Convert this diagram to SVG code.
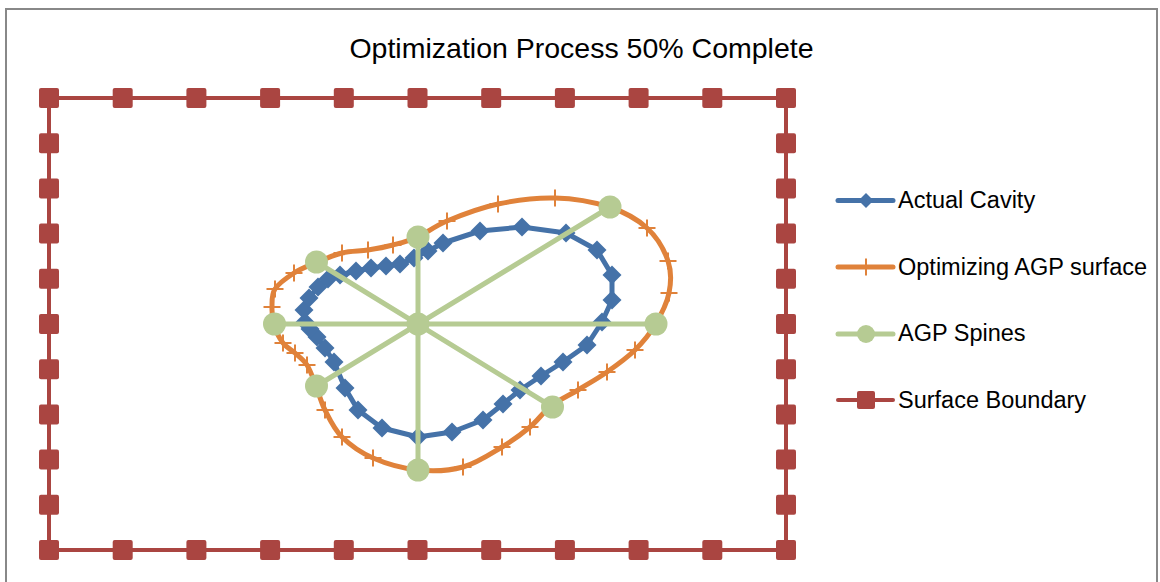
<svg xmlns="http://www.w3.org/2000/svg" xmlns:xlink="http://www.w3.org/1999/xlink" width="1160" height="582" viewBox="0 0 1160 582">
<style>
.txt{font-family:"Liberation Sans",Arial,sans-serif;fill:#000}
.title{font-size:28.5px}
.leg{font-size:23.5px}
.blue{fill:none;stroke:#4572A8;stroke-width:5;stroke-linejoin:round}
.orange{fill:none;stroke:#E0823A;stroke-width:5;stroke-linejoin:round}
.green{fill:none;stroke:#B6CB93;stroke-width:5;stroke-linecap:round}
.red{fill:none;stroke:#AA4541;stroke-width:4}
</style>
<defs>
<path id="dia" d="M0,-9.5L9.5,0L0,9.5L-9.5,0Z" fill="#4572A8"/>
<path id="plus" d="M-8.5,0H8.5M0,-8.5V8.5" stroke="#E0823A" stroke-width="2" fill="none"/>
<rect id="sq" x="-10" y="-10" width="20" height="20" rx="2" fill="#AA4541"/>
<circle id="dot" r="11.5" fill="#B6CB93"/>
</defs>
<rect x="6" y="9" width="1151" height="600" fill="#fff" stroke="#888" stroke-width="2"/>
<text class="txt title" x="581.5" y="58" text-anchor="middle">Optimization Process 50% Complete</text>

<g id="actual-cavity">
<polygon class="blue" points="305,322 304,310 309,298 318,287 328,279 340,275 356,271 371,268 386,266 400,264 414,258 428,251 443,243 480,231 522,227 566,233 597,250 612,275 612,300 602,322 587,345 563,362 541,376 520,390 503,404 483,420 452,432 418,437 382,428 358,410 345,388 334,362 325,348 317,337 310,329"/>
<use href="#dia" x="305" y="322"/><use href="#dia" x="304" y="310"/><use href="#dia" x="309" y="298"/><use href="#dia" x="318" y="287"/><use href="#dia" x="328" y="279"/><use href="#dia" x="340" y="275"/><use href="#dia" x="356" y="271"/><use href="#dia" x="371" y="268"/><use href="#dia" x="386" y="266"/><use href="#dia" x="400" y="264"/><use href="#dia" x="414" y="258"/><use href="#dia" x="428" y="251"/><use href="#dia" x="443" y="243"/><use href="#dia" x="480" y="231"/><use href="#dia" x="522" y="227"/><use href="#dia" x="566" y="233"/><use href="#dia" x="597" y="250"/><use href="#dia" x="612" y="275"/><use href="#dia" x="612" y="300"/><use href="#dia" x="602" y="322"/><use href="#dia" x="587" y="345"/><use href="#dia" x="563" y="362"/><use href="#dia" x="541" y="376"/><use href="#dia" x="520" y="390"/><use href="#dia" x="503" y="404"/><use href="#dia" x="483" y="420"/><use href="#dia" x="452" y="432"/><use href="#dia" x="418" y="437"/><use href="#dia" x="382" y="428"/><use href="#dia" x="358" y="410"/><use href="#dia" x="345" y="388"/><use href="#dia" x="334" y="362"/><use href="#dia" x="325" y="348"/><use href="#dia" x="317" y="337"/><use href="#dia" x="310" y="329"/>
</g>

<g id="agp-surface">
<path class="orange" d="M274,325 C272.17,319 271.83,313 272,307 C272.17,301 271.33,294.67 275,289 C278.67,283.33 287.33,277.33 294,273 C300.67,268.67 307,266.33 315,263 C323,259.67 333.17,255.17 342,253 C350.83,250.83 359.5,251.33 368,250 C376.5,248.67 384.67,247.17 393,245 C401.33,242.83 409,241 418,237 C427,233 433.67,226.5 447,221 C460.33,215.5 480,207.83 498,204 C516,200.17 536.5,197.5 555,198 C573.5,198.5 593.67,202 609,207 C624.33,212 637.17,219 647,228 C656.83,237 664.33,250.17 668,261 C671.67,271.83 671.17,282.33 669,293 C666.83,303.67 660.67,315.5 655,325 C649.33,334.5 643,342.17 635,350 C627,357.83 616.5,365.33 607,372 C597.5,378.67 587.33,384.33 578,390 C568.67,395.67 559,399.83 551,406 C543,412.170 538.17,420.17 530,427 C521.83,433.83 513.17,440.33 502,447 C490.83,453.67 477,463.17 463,467 C449,470.83 433,471.5 418,470 C403,468.5 385.67,463.5 373,458 C360.33,452.5 350,445 342,437 C334,429 329.33,418.5 325,410 C320.67,401.5 319,393.5 316,386 C313,378.5 310.5,370.5 307,365 C303.5,359.5 299,356.67 295,353 C291,349.33 286.5,347.67 283,343 C279.5,338.33 275.83,331 274,325 Z"/>
<use href="#plus" x="272" y="307"/><use href="#plus" x="275" y="289"/><use href="#plus" x="294" y="273"/><use href="#plus" x="342" y="253"/><use href="#plus" x="368" y="250"/><use href="#plus" x="393" y="245"/><use href="#plus" x="447" y="221"/><use href="#plus" x="498" y="204"/><use href="#plus" x="555" y="198"/><use href="#plus" x="647" y="228"/><use href="#plus" x="668" y="261"/><use href="#plus" x="669" y="293"/><use href="#plus" x="635" y="350"/><use href="#plus" x="607" y="372"/><use href="#plus" x="578" y="390"/><use href="#plus" x="530" y="427"/><use href="#plus" x="502" y="447"/><use href="#plus" x="463" y="467"/><use href="#plus" x="373" y="458"/><use href="#plus" x="342" y="437"/><use href="#plus" x="325" y="410"/><use href="#plus" x="307" y="365"/><use href="#plus" x="295" y="353"/><use href="#plus" x="283" y="343"/>
</g>

<g id="agp-spines">
<path class="green" d="M274,324H657M418,237V470M316.5,262L552.5,407M610,207L316.5,386"/>
<use href="#dot" x="418" y="324"/><use href="#dot" x="418" y="237"/><use href="#dot" x="610" y="207"/><use href="#dot" x="656" y="324"/><use href="#dot" x="552.5" y="407"/><use href="#dot" x="418" y="470"/><use href="#dot" x="316.5" y="386"/><use href="#dot" x="274.5" y="324"/><use href="#dot" x="316.5" y="262"/>
</g>

<g id="surface-boundary">
<rect class="red" x="49" y="98" width="737" height="452"/>
<use href="#sq" x="49" y="98"/><use href="#sq" x="122.7" y="98"/><use href="#sq" x="196.4" y="98"/><use href="#sq" x="270.1" y="98"/><use href="#sq" x="343.8" y="98"/><use href="#sq" x="417.5" y="98"/><use href="#sq" x="491.2" y="98"/><use href="#sq" x="564.9" y="98"/><use href="#sq" x="638.6" y="98"/><use href="#sq" x="712.3" y="98"/><use href="#sq" x="786" y="98"/>
<use href="#sq" x="49" y="550"/><use href="#sq" x="122.7" y="550"/><use href="#sq" x="196.4" y="550"/><use href="#sq" x="270.1" y="550"/><use href="#sq" x="343.8" y="550"/><use href="#sq" x="417.5" y="550"/><use href="#sq" x="491.2" y="550"/><use href="#sq" x="564.9" y="550"/><use href="#sq" x="638.6" y="550"/><use href="#sq" x="712.3" y="550"/><use href="#sq" x="786" y="550"/>
<use href="#sq" x="49" y="143.2"/><use href="#sq" x="49" y="188.4"/><use href="#sq" x="49" y="233.6"/><use href="#sq" x="49" y="278.8"/><use href="#sq" x="49" y="324"/><use href="#sq" x="49" y="369.2"/><use href="#sq" x="49" y="414.4"/><use href="#sq" x="49" y="459.6"/><use href="#sq" x="49" y="504.8"/>
<use href="#sq" x="786" y="143.2"/><use href="#sq" x="786" y="188.4"/><use href="#sq" x="786" y="233.6"/><use href="#sq" x="786" y="278.8"/><use href="#sq" x="786" y="324"/><use href="#sq" x="786" y="369.2"/><use href="#sq" x="786" y="414.4"/><use href="#sq" x="786" y="459.6"/><use href="#sq" x="786" y="504.8"/>
</g>

<g id="legend">
<g id="legend-actual-cavity">
<line class="blue" x1="838" y1="200.5" x2="893" y2="200.5" stroke-linecap="round"/>
<path d="M866,193L873.5,200.5L866,208L858.5,200.5Z" fill="#4572A8"/>
<text class="txt leg" x="898" y="208">Actual Cavity</text>
</g>
<g id="legend-agp-surface">
<line class="orange" x1="838" y1="267" x2="893" y2="267" stroke-linecap="round"/>
<path d="M857.5,267H874.5M866,258.5V275.5" stroke="#E0823A" stroke-width="2"/>
<text class="txt leg" x="898" y="275">Optimizing AGP surface</text>
</g>
<g id="legend-agp-spines">
<line class="green" x1="838" y1="334" x2="893" y2="334"/>
<circle cx="866" cy="334" r="9" fill="#B6CB93"/>
<text class="txt leg" x="898" y="341">AGP Spines</text>
</g>
<g id="legend-surface-boundary">
<line class="red" x1="838" y1="400" x2="893" y2="400" stroke-linecap="round"/>
<rect x="857" y="391" width="18" height="18" rx="2" fill="#AA4541"/>
<text class="txt leg" x="898" y="408">Surface Boundary</text>
</g>
</g>
</svg>
